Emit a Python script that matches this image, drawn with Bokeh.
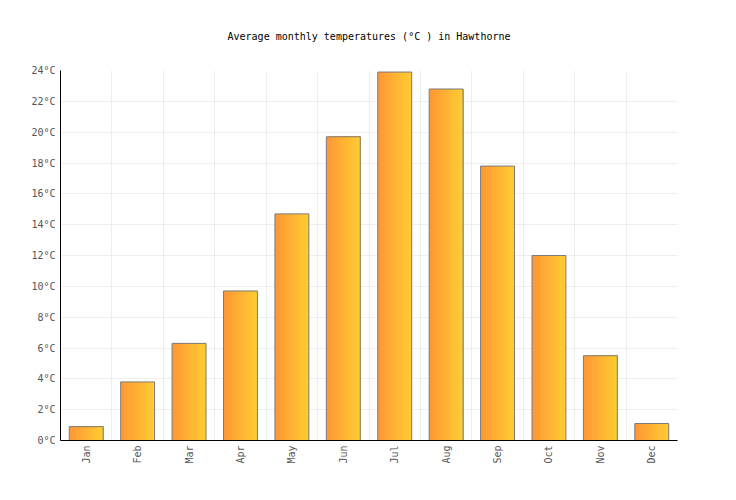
from bokeh.plotting import figure
from bokeh.models import FixedTicker, Range1d, ColumnDataSource
from bokeh.embed import file_html
from bokeh.resources import INLINE
import math

# Datos
months = ["Jan", "Feb", "Mar", "Apr", "May", "Jun",
          "Jul", "Aug", "Sep", "Oct", "Nov", "Dec"]
temps = [0.9, 3.8, 6.3, 9.7, 14.7, 19.7, 23.9, 22.8, 17.8, 12.0, 5.5, 1.1]
y_ticks = [0, 2, 4, 6, 8, 10, 12, 14, 16, 18, 20, 22, 24]
title = "Average monthly temperatures (°C ) in Hawthorne"

FONT = "DejaVu Sans Mono"

p = figure(width=720, height=484, output_backend="svg", toolbar_location=None,
           x_range=Range1d(0, 12), y_range=Range1d(0, 24), title=title,
           min_border_left=60, min_border_right=43, min_border_bottom=44,
           min_border_top=0)
p.outline_line_color = None

p.title.align = "center"
p.title.vertical_align = "bottom"
p.title.text_font = FONT
p.title.text_font_size = "10px"
p.title.text_font_style = "normal"
p.title.text_color = "#000000"
p.title.offset = 0
p.title.standoff = 57

# Centros de cada mes
xs = [i + 0.5 for i in range(len(months))]
src = ColumnDataSource(dict(x=xs, top=temps, month=months))

# Barras con degradado horizontal (naranja -> amarillo)
bar_w = 0.66
n = 20
c0 = (255, 152, 52)
c1 = (255, 204, 51)
for i in range(n):
    t = i / (n - 1)
    col = "#%02x%02x%02x" % tuple(round(a + (b - a) * t) for a, b in zip(c0, c1))
    w_i = bar_w * (n - i) / n
    # cada franja empieza en su sitio y se extiende hasta el borde derecho
    xs_i = [x + bar_w / 2 - w_i / 2 for x in xs]
    p.vbar(x=xs_i, width=w_i, top=temps, bottom=0,
           fill_color=col, line_color=None)
p.vbar(x="x", width=bar_w, top="top", bottom=0, source=src,
       fill_alpha=0, line_color="#7b7b7b", line_width=1)

# Ejes
p.xaxis.ticker = FixedTicker(ticks=xs)
p.xaxis.major_label_overrides = {x: m for x, m in zip(xs, months)}
p.xaxis.major_label_orientation = math.pi / 2
p.yaxis.ticker = FixedTicker(ticks=y_ticks)
p.yaxis.major_label_overrides = {v: f"{v}°C" for v in y_ticks}

for ax in (p.xaxis[0], p.yaxis[0]):
    ax.major_tick_line_color = None
    ax.minor_tick_line_color = None
    ax.major_tick_in = 0
    ax.major_tick_out = 0
    ax.axis_line_color = "#000000"
    ax.axis_line_width = 1
    ax.major_label_text_font = FONT
    ax.major_label_text_font_size = "10px"
    ax.major_label_text_color = "#555555"
    ax.major_label_standoff = 5

# Rejilla
p.xgrid.ticker = FixedTicker(ticks=list(range(13)))
p.ygrid.ticker = FixedTicker(ticks=y_ticks)
p.xgrid.grid_line_color = "#eeeeee"
p.ygrid.grid_line_color = "#eeeeee"

open("out.html", "w").write(file_html(p, INLINE))
